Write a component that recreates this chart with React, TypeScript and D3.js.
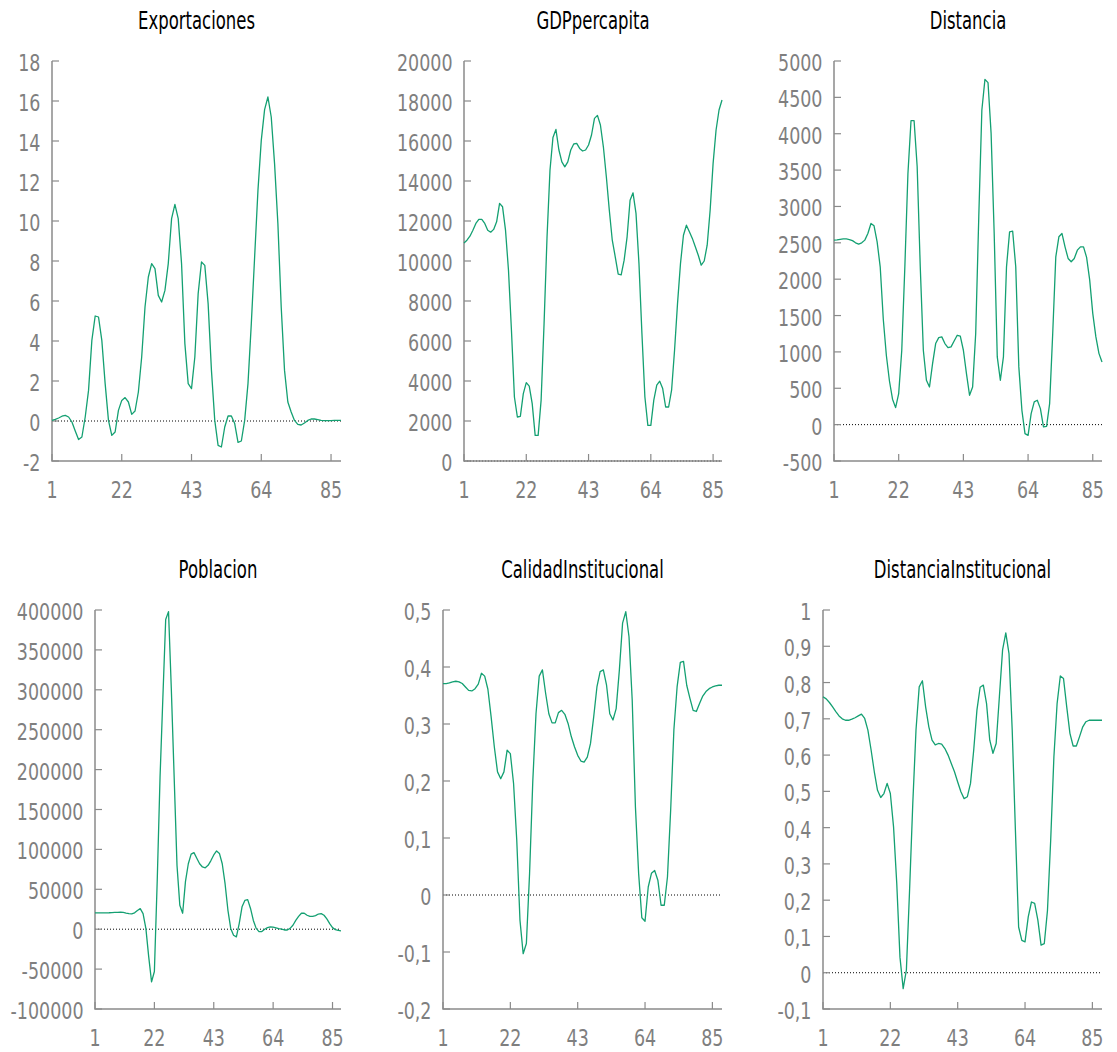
import React from "react";
import * as d3 from "d3";

// observations 1..88, one value per period
const exportaciones = [
  0.03, 0.08, 0.15, 0.24, 0.28, 0.2, -0.05, -0.5, -0.93, -0.8, 0.2, 1.53, 4.03, 5.25, 5.2, 4.03, 1.87, 0.03,
  -0.72, -0.55, 0.53, 1.03, 1.17, 0.95, 0.33, 0.5, 1.45, 3.2, 5.7, 7.2, 7.87, 7.62, 6.28, 5.95, 6.53, 7.87,
  10.12, 10.83, 10.12, 7.87, 3.87, 1.87, 1.62, 3.2, 6.37, 7.95, 7.78, 5.87, 2.53, 0.03, -1.22, -1.3, -0.3,
  0.25, 0.25, -0.13, -1.07, -1.0, 0.03, 1.87, 4.87, 8.2, 11.53, 14.03, 15.57, 16.2, 15.2, 12.87, 9.87, 5.7,
  2.53, 0.95, 0.45, 0.03, -0.17, -0.2, -0.1, 0.03, 0.1, 0.1, 0.07, 0.03, 0.02, 0.02, 0.02, 0.03, 0.03, 0.03,
];

const gdpPercapita = [
  10900, 11040, 11240, 11540, 11880, 12080, 12080, 11880, 11540, 11440, 11580, 11960, 12880, 12710, 11540,
  9540, 6540, 3200, 2200, 2230, 3370, 3920, 3740, 2870, 1280, 1280, 3030, 6870, 11200, 14550, 16180, 16580,
  15550, 14960, 14710, 14960, 15550, 15850, 15880, 15630, 15500, 15550, 15800, 16300, 17130, 17280, 16800,
  15710, 14210, 12540, 11040, 10210, 9340, 9310, 10040, 11210, 13040, 13410, 12380, 9870, 6370, 3200, 1780,
  1780, 3040, 3790, 3990, 3620, 2700, 2700, 3540, 5540, 7870, 9870, 11290, 11790, 11460, 11130, 10710,
  10290, 9790, 10000, 10790, 12540, 14880, 16550, 17550, 18050,
];

const distancia = [
  2537, 2540, 2548, 2555, 2553, 2545, 2530, 2500, 2482, 2500, 2537, 2628, 2766, 2734, 2514, 2170, 1450, 950,
  600, 350, 234, 427, 1023, 2170, 3454, 4179, 4179, 3546, 2170, 1023, 610, 518, 839, 1115, 1197, 1207, 1115,
  1060, 1069, 1151, 1229, 1216, 1023, 702, 404, 518, 1252, 2858, 4326, 4748, 4702, 4005, 2629, 931, 610, 931,
  2170, 2651, 2660, 2170, 794, 197, -124, -147, 151, 312, 335, 220, -32, -23, 289, 1252, 2307, 2583, 2629,
  2445, 2285, 2239, 2285, 2399, 2445, 2445, 2300, 1990, 1530, 1210, 980, 860,
];

const poblacion = [
  20400, 20400, 20400, 20400, 20500, 20600, 20800, 21000, 21200, 21300, 21000, 20200, 19500, 19300, 20500,
  23500, 25800, 19500, 800, -34700, -66000, -53000, 60000, 190000, 290000, 388000, 398000, 300000, 190000,
  80000, 30000, 20000, 60000, 82000, 94000, 96000, 89000, 82000, 78000, 77000, 80000, 86000, 93000, 98000,
  95000, 82000, 57000, 24000, 1000, -7500, -9600, 7000, 28000, 36000, 37000, 26000, 11000, 1000, -3000,
  -3000, 0, 2000, 3000, 2500, 1700, 800, 0, -1000, -1000, 1000, 5000, 11000, 16000, 20000, 20000, 17500,
  16000, 16000, 17000, 19000, 19500, 17500, 13000, 7000, 2000, -500, -1500, -2000,
];

const calidadInstitucional = [
  0.371, 0.371, 0.372, 0.374, 0.375, 0.374, 0.371, 0.365, 0.359, 0.358, 0.362, 0.37, 0.389, 0.384, 0.361,
  0.313, 0.26, 0.216, 0.204, 0.216, 0.254, 0.248, 0.196, 0.096, -0.044, -0.103, -0.085, 0.038, 0.2, 0.318,
  0.384, 0.395, 0.354, 0.318, 0.302, 0.302, 0.32, 0.324, 0.317, 0.301, 0.278, 0.26, 0.245, 0.235, 0.233,
  0.242, 0.266, 0.313, 0.365, 0.392, 0.395, 0.368, 0.318, 0.307, 0.327, 0.395, 0.477, 0.497, 0.453, 0.342,
  0.155, 0.038, -0.04, -0.046, 0.014, 0.038, 0.043, 0.026, -0.018, -0.018, 0.032, 0.15, 0.29, 0.365, 0.408,
  0.41, 0.368, 0.345, 0.324, 0.322, 0.336, 0.349, 0.357, 0.362, 0.365, 0.367, 0.368, 0.368,
];

const distanciaInstitucional = [
  0.761, 0.755, 0.745, 0.733, 0.72, 0.708, 0.7, 0.696, 0.696, 0.699, 0.703, 0.708, 0.713, 0.701, 0.669,
  0.614, 0.554, 0.503, 0.483, 0.494, 0.522, 0.494, 0.402, 0.246, 0.043, -0.044, 0.007, 0.228, 0.467, 0.669,
  0.788, 0.805, 0.733, 0.678, 0.641, 0.628, 0.632, 0.63, 0.618, 0.6, 0.577, 0.554, 0.526, 0.499, 0.48,
  0.485, 0.522, 0.614, 0.724, 0.787, 0.793, 0.742, 0.641, 0.605, 0.632, 0.761, 0.89, 0.937, 0.88, 0.669,
  0.393, 0.126, 0.089, 0.085, 0.154, 0.195, 0.191, 0.145, 0.076, 0.08, 0.172, 0.365, 0.595, 0.742, 0.818,
  0.811, 0.733, 0.66, 0.625, 0.625, 0.651, 0.678, 0.692, 0.696, 0.696, 0.696, 0.696, 0.696,
];

const xTicks = [1, 22, 43, 64, 85];

const panels = [
  { title: "Exportaciones", data: exportaciones, yDomain: [-2, 18], step: 2, left: 52, right: 341, top: 61, bottom: 461 },
  { title: "GDPpercapita", data: gdpPercapita, yDomain: [0, 20000], step: 2000, left: 464, right: 722, top: 61, bottom: 461 },
  { title: "Distancia", data: distancia, yDomain: [-500, 5000], step: 500, left: 834, right: 1102, top: 61, bottom: 461 },
  { title: "Poblacion", data: poblacion, yDomain: [-100000, 400000], step: 50000, left: 95, right: 341, top: 610, bottom: 1009 },
  { title: "CalidadInstitucional", data: calidadInstitucional, yDomain: [-0.2, 0.5], step: 0.1, left: 443, right: 722, top: 610, bottom: 1009 },
  { title: "DistanciaInstitucional", data: distanciaInstitucional, yDomain: [-0.1, 1], step: 0.1, left: 823, right: 1102, top: 610, bottom: 1009 },
];

const GREEN = "#14a072";
const GREY = "#8a8a8a";
const LABEL = "#7f7f7f";
const FONT = "DejaVu Sans, sans-serif";
// the reference text is drawn taller than the font's natural shape
const LABEL_STRETCH = 1.35;
const TITLE_STRETCH = 1.5;

// gnuplot-like label: comma decimal, plain hyphen
const fmt = (v: number) => {
  const r = Math.round(v * 1000) / 1000;
  return String(r).replace(".", ",");
};

function Panel({ p }: { p: any }) {
  const n = p.data.length;
  const x = d3.scaleLinear().domain([1, n]).range([p.left, p.right]);
  const y = d3.scaleLinear().domain(p.yDomain).range([p.bottom, p.top]);
  const count = Math.round((p.yDomain[1] - p.yDomain[0]) / p.step);
  const yTicks = d3.range(count + 1).map((k) => p.yDomain[0] + k * p.step);

  const line = d3
    .line<number>()
    .x((_, i) => x(i + 1))
    .y((d) => y(d));

  return (
    <g>
      <g transform={`translate(${(p.left + p.right) / 2},${p.top - 32.5}) scale(1,${TITLE_STRETCH})`}>
        <text textAnchor="middle" fontFamily={FONT} fontSize={16.5} fill="#000">
          {p.title}
        </text>
      </g>

      {/* zero line */}
      <line x1={p.left} x2={p.right} y1={y(0)} y2={y(0)} stroke="#000" strokeWidth={1} strokeDasharray="1,2" />

      {/* y axis */}
      {yTicks.map((t) => (
        <g key={t}>
          <line x1={p.left} x2={p.left + 7} y1={y(t)} y2={y(t)} stroke={GREY} strokeWidth={1.2} />
          <g transform={`translate(${p.left - 11.5},${y(t) + 10}) scale(1,${LABEL_STRETCH})`}>
            <text textAnchor="end" fontFamily={FONT} fontSize={17.5} fill={LABEL}>
              {fmt(t)}
            </text>
          </g>
        </g>
      ))}

      {/* x axis */}
      {xTicks.map((t) => (
        <g key={t}>
          <line x1={x(t)} x2={x(t)} y1={p.bottom} y2={p.bottom - 7} stroke={GREY} strokeWidth={1.2} />
          <g transform={`translate(${x(t)},${p.bottom + 37}) scale(1,${LABEL_STRETCH})`}>
            <text textAnchor="middle" fontFamily={FONT} fontSize={17.5} fill={LABEL}>
              {t}
            </text>
          </g>
        </g>
      ))}

      <path
        d={`M${p.left},${p.top}V${p.bottom}H${p.right}`}
        fill="none"
        stroke={GREY}
        strokeWidth={1.5}
      />

      <path d={line(p.data) || ""} fill="none" stroke={GREEN} strokeWidth={1.3} strokeLinejoin="round" />
    </g>
  );
}

export default function App() {
  return (
    <svg
      width={1117}
      height={1052}
      style={{ position: "absolute", left: 0, top: 0, background: "#fff" }}
    >
      <rect width={1117} height={1052} fill="#fff" />
      {panels.map((p) => (
        <Panel key={p.title} p={p} />
      ))}
    </svg>
  );
}
